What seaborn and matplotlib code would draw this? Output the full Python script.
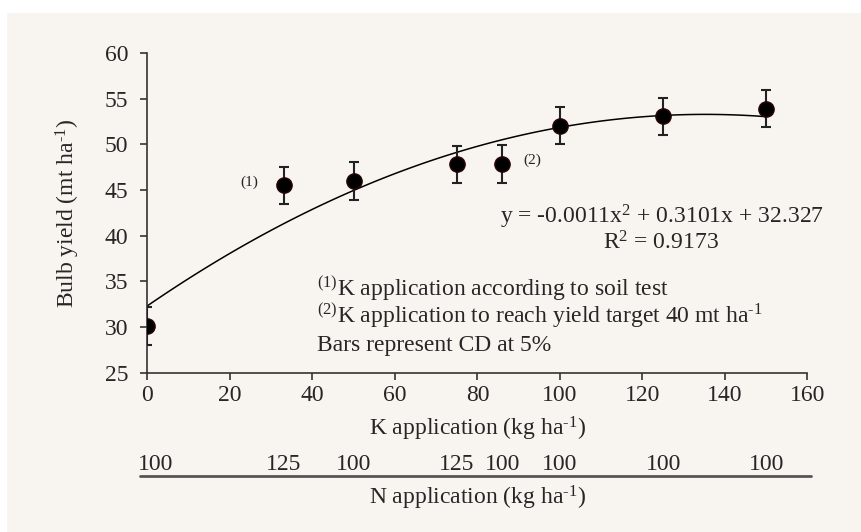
import numpy as np
import pandas as pd
import seaborn as sns
import matplotlib.pyplot as plt
from matplotlib.patches import Rectangle
from matplotlib.lines import Line2D
from matplotlib.transforms import blended_transform_factory

# data
k_rate = [0, 33, 50, 75, 86, 100, 125, 150]
bulb_yield = [30.1, 45.5, 46.0, 47.8, 47.85, 52.05, 53.05, 53.9]
cd_half = [2.05, 2.05, 2.05, 2.05, 2.05, 2.05, 2.05, 2.05]
n_rate = ["100", "125", "100", "125", "100", "100", "100", "100"]
x_ticks = [0, 20, 40, 60, 80, 100, 120, 140, 160]
y_ticks = [25, 30, 35, 40, 45, 50, 55, 60]

df = pd.DataFrame({"K": k_rate, "Yield": bulb_yield, "CD": cd_half})

sns.set_style("ticks")
plt.rcParams["font.family"] = ["Liberation Serif", "DejaVu Serif"]
plt.rcParams["mathtext.fontset"] = "custom"
plt.rcParams["mathtext.rm"] = "Liberation Serif"
plt.rcParams["mathtext.it"] = "Liberation Serif:italic"
plt.rcParams["mathtext.bf"] = "Liberation Serif:bold"

W, H = 862, 532
FS = 17
fig = plt.figure(figsize=(W / 100, H / 100), dpi=100, facecolor="white")
# beige panel
fig.add_artist(Rectangle((7 / W, 0), 1, 1 - 13 / H, transform=fig.transFigure,
                         facecolor="#f8f5f1", edgecolor="none", zorder=0))

ax = fig.add_axes([147.5 / W, 1 - 372.6 / H, 660 / W, 319.6 / H])
ax.set_facecolor("none")

# quadratic trend line
sns.regplot(data=df, x="K", y="Yield", order=2, ci=None, scatter=False,
            truncate=True, color="black", line_kws={"linewidth": 1.1}, ax=ax)

ax.errorbar(df["K"], df["Yield"], yerr=df["CD"], fmt="o", color="black",
            markersize=11, markeredgecolor="#2a0505", ecolor="#222222",
            elinewidth=1.5, capsize=3.5, capthick=1.5, zorder=5)

ax.set_xlim(0, 160)
ax.set_ylim(25, 60)
ax.set_xticks(x_ticks)
ax.set_yticks(y_ticks)
ax.tick_params(labelsize=FS, length=5, width=1.2, color="#333333")
ax.tick_params(axis="y", pad=9)
ax.tick_params(axis="x", pad=4)
for s in ["top", "right"]:
    ax.spines[s].set_visible(False)
for s in ["left", "bottom"]:
    ax.spines[s].set_color("#333333")
    ax.spines[s].set_linewidth(1.2)

ax.set_xlabel(r"K application (kg ha$^{\text{-1}}$)", fontsize=FS, labelpad=6)
ax.set_ylabel(r"Bulb yield (mt ha$^{\text{-1}}$)", fontsize=FS, labelpad=16)

ax.text(24.8, 45.8, "(1)", fontsize=11, ha="center", va="center")
ax.text(93.2, 48.3, "(2)", fontsize=11, ha="center", va="center")

ax.text(1.025, 0.486, "y = -0.0011x$^{2}$ + 0.3101x + 32.327", transform=ax.transAxes,
        fontsize=FS, ha="right", va="center")
ax.text(124.5, 39.2, "R$^{2}$ = 0.9173", fontsize=FS, ha="center", va="center")

ax.text(41, 34.2, "$^{(1)}$K application according to soil test", fontsize=FS, va="center")
ax.text(41, 31.2, r"$^{(2)}$K application to reach yield target 40 mt ha$^{\text{-1}}$",
        fontsize=FS, va="center")
ax.text(41, 28.0, "Bars represent CD at 5%", fontsize=FS, va="center")

# second axis for N application
tr = blended_transform_factory(ax.transData, fig.transFigure)
fig.add_artist(Line2D([140 / W, 811 / W], [1 - 476 / H, 1 - 476 / H],
                      transform=fig.transFigure, color="#555555", linewidth=2))
for k, n in zip(k_rate, n_rate):
    xpos = k + 2 if k == 0 else k
    ax.text(xpos, 1 - 465 / H, n, transform=tr, fontsize=FS, ha="center", va="center")
fig.text(477 / W, 1 - 498 / H, r"N application (kg ha$^{\text{-1}}$)", fontsize=FS,
         ha="center", va="center")

fig.savefig("out.png", dpi=100, facecolor=fig.get_facecolor())
